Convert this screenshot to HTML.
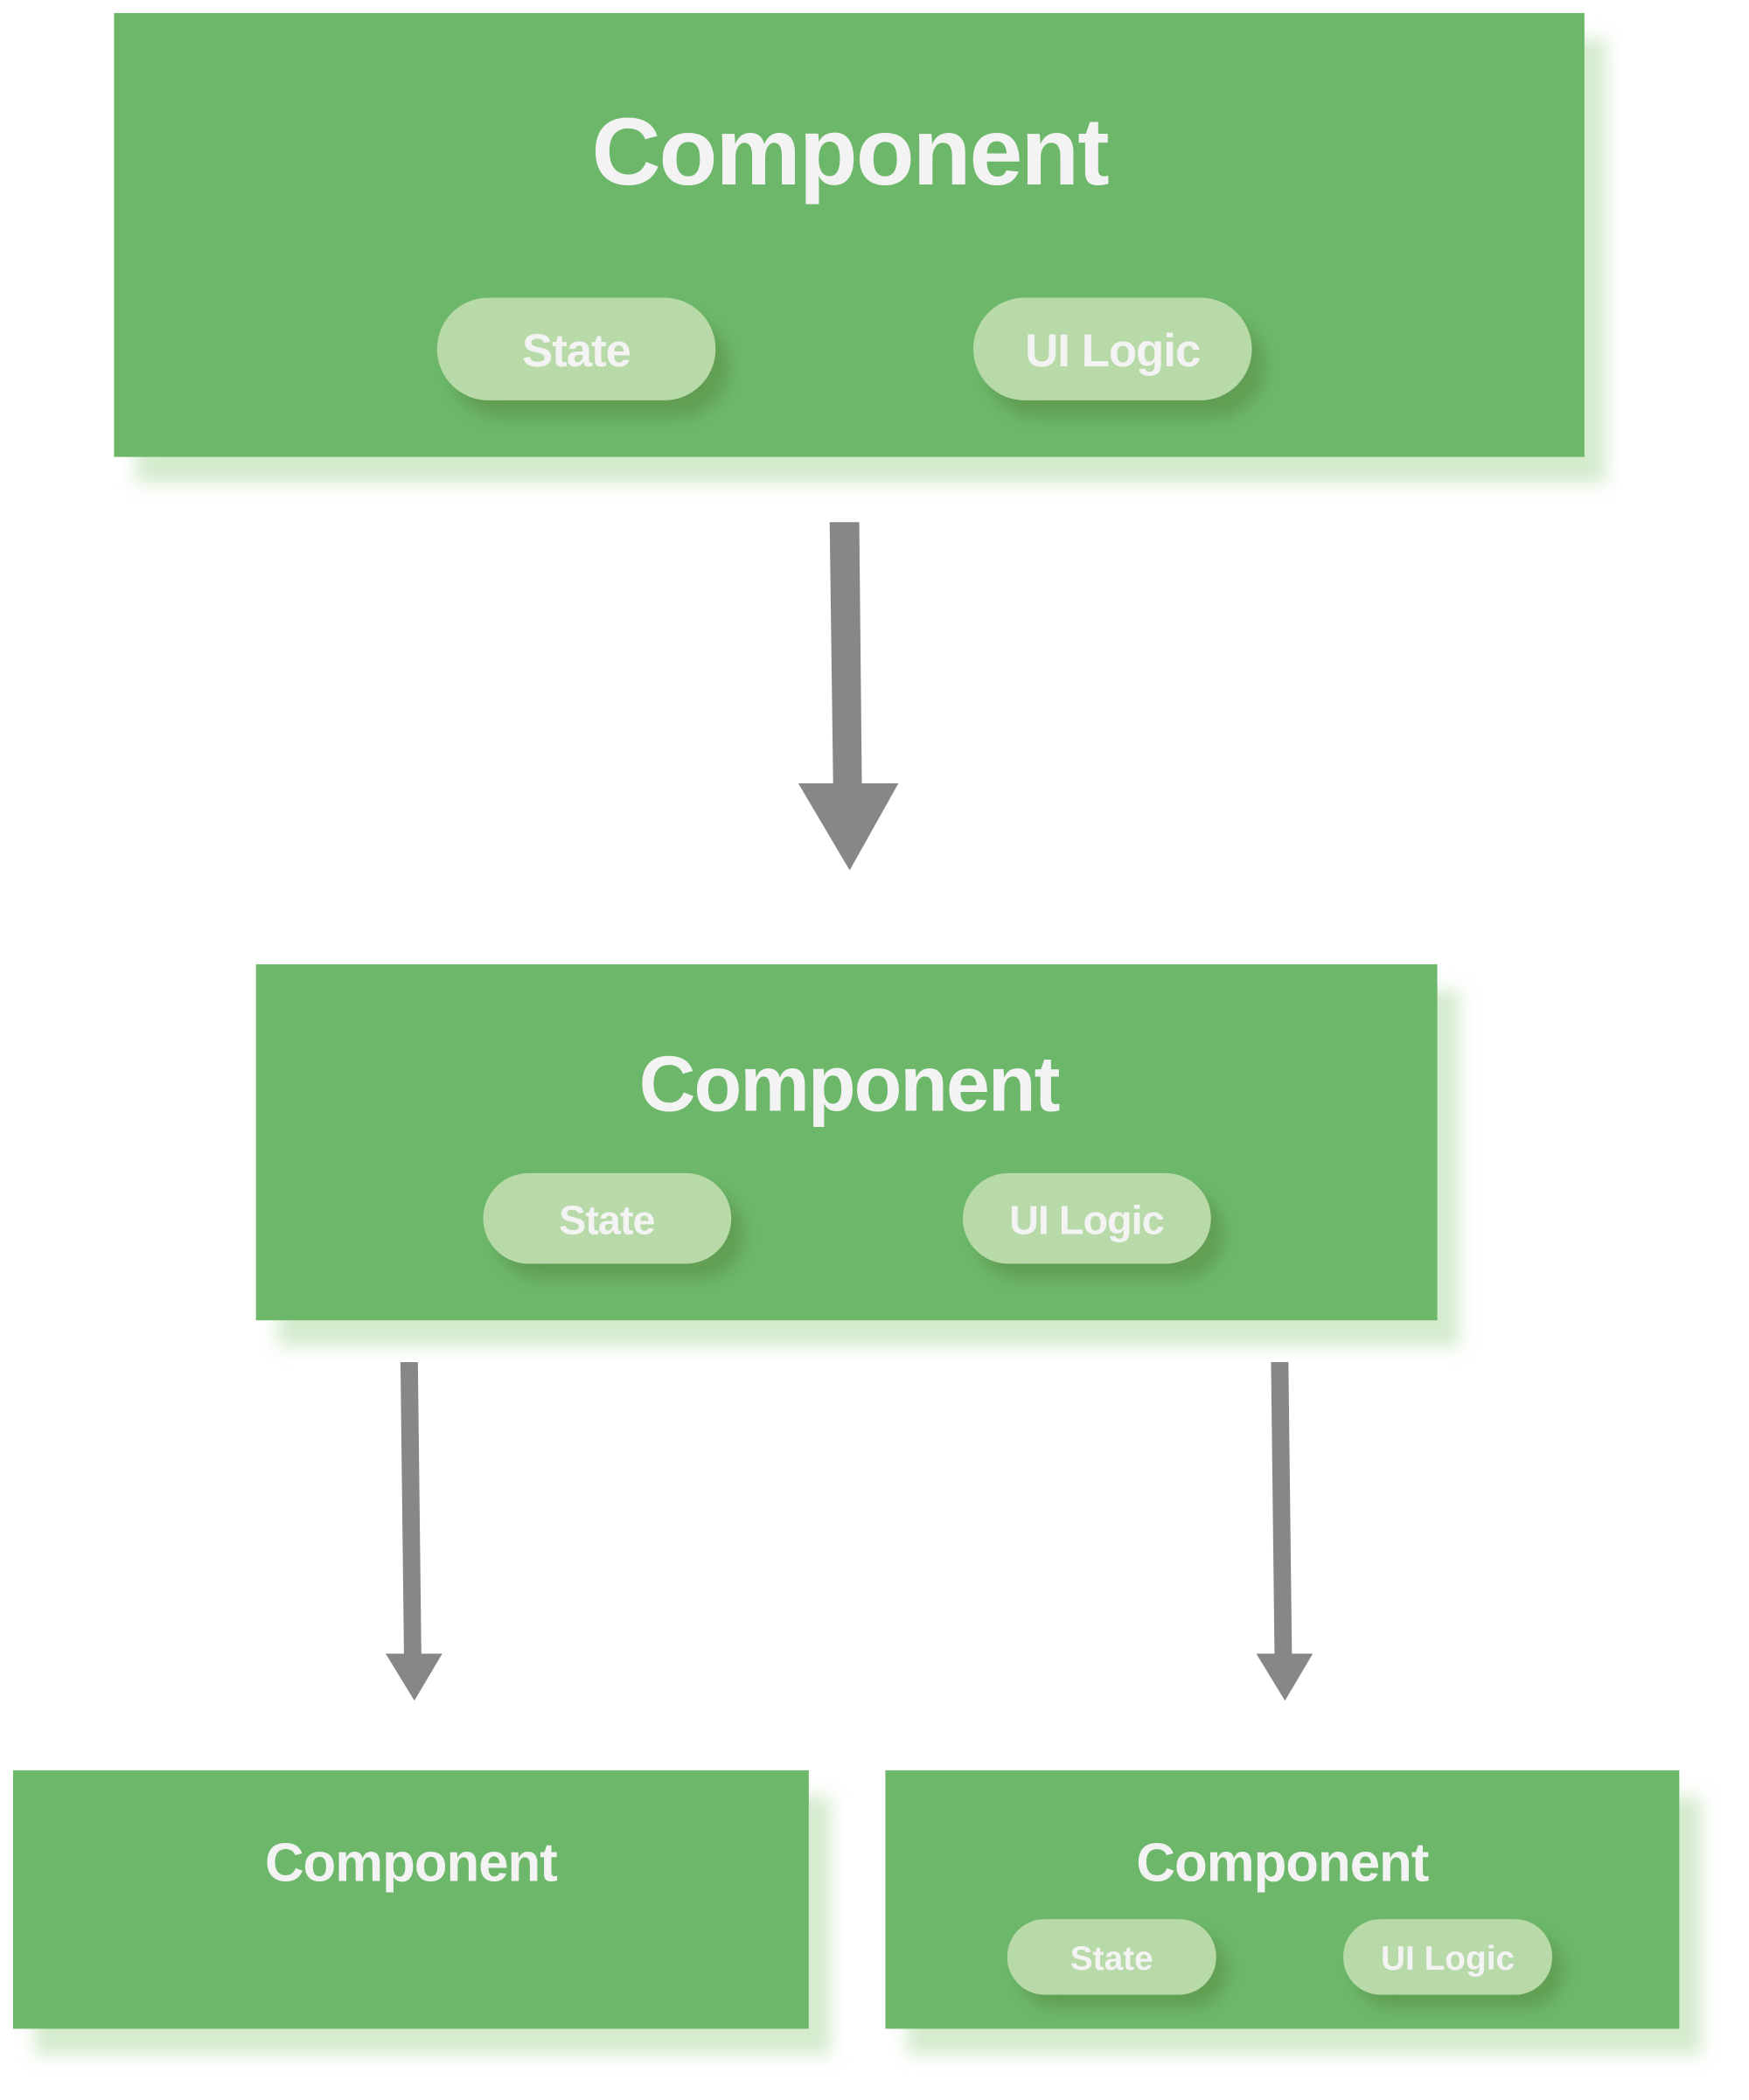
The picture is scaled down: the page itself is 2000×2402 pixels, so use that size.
<!DOCTYPE html>
<html><head><style>
html,body{margin:0;padding:0;background:#fff;width:2000px;height:2402px;overflow:hidden}
</style></head><body>
<svg width="2000" height="2402" viewBox="0 0 2000 2402" xmlns="http://www.w3.org/2000/svg" font-family="'Liberation Sans',sans-serif" font-weight="bold" fill="#f3f3f3">
<defs>
<filter id="bs" x="-10%" y="-10%" width="130%" height="140%"><feGaussianBlur stdDeviation="10"/></filter>
<filter id="ps" x="-20%" y="-30%" width="150%" height="180%"><feGaussianBlur stdDeviation="8"/></filter>
</defs>
<g transform="scale(0.9955)">
<g fill="#d4ebcd" filter="url(#bs)">
<rect x="156" y="45" width="1689" height="510"/>
<rect x="319" y="1138" width="1357" height="409"/>
<rect x="40" y="2064" width="914" height="297"/>
<rect x="1042" y="2064" width="912" height="297"/>
</g>
<g fill="#6cb76a">
<rect x="131" y="15" width="1689" height="510"/>
<rect x="294" y="1108" width="1357" height="409"/>
<rect x="15" y="2034" width="914" height="297"/>
<rect x="1017" y="2034" width="912" height="297"/>
</g>
<g fill="#5a8f45" opacity="0.6" filter="url(#ps)">
<rect x="517" y="362" width="320" height="118" rx="59"/>
<rect x="1133" y="362" width="320" height="118" rx="59"/>
<rect x="570" y="1366" width="285" height="104" rx="52"/>
<rect x="1121" y="1366" width="285" height="104" rx="52"/>
<rect x="1170" y="2220" width="240" height="87" rx="43"/>
<rect x="1556" y="2220" width="240" height="87" rx="43"/>
</g>
<g fill="#b8d9a8">
<rect x="502" y="342" width="320" height="118" rx="59"/>
<rect x="1118" y="342" width="320" height="118" rx="59"/>
<rect x="555" y="1348" width="285" height="104" rx="52"/>
<rect x="1106" y="1348" width="285" height="104" rx="52"/>
<rect x="1157" y="2205" width="240" height="87" rx="43"/>
<rect x="1543" y="2205" width="240" height="87" rx="43"/>
</g>
<g text-anchor="middle" letter-spacing="-2">
<text x="976" y="212" font-size="110">Component</text>
<text x="975" y="1276" font-size="90">Component</text>
<text x="472" y="2161" font-size="62" letter-spacing="-1">Component</text>
<text x="1473" y="2161" font-size="62" letter-spacing="-1">Component</text>
</g>
<g text-anchor="middle" font-size="53" letter-spacing="-1">
<text x="662" y="421">State</text>
<text x="1278" y="421">UI Logic</text>
</g>
<g text-anchor="middle" font-size="47" letter-spacing="-1">
<text x="697" y="1418">State</text>
<text x="1248" y="1418">UI Logic</text>
</g>
<g text-anchor="middle" font-size="39">
<text x="1277" y="2263">State</text>
<text x="1663" y="2263">UI Logic</text>
</g>
<g fill="#878787">
<polygon points="953,600 987,600 990,900 1032,900 976,1000 917,900 957,900"/>
<polygon points="460,1565 480,1565 484,1900 508,1900 476,1954 443,1900 464,1900"/>
<polygon points="1460,1565 1480,1565 1484,1900 1508,1900 1476,1954 1443,1900 1464,1900"/>
</g>
</g>
</svg>
</body></html>
